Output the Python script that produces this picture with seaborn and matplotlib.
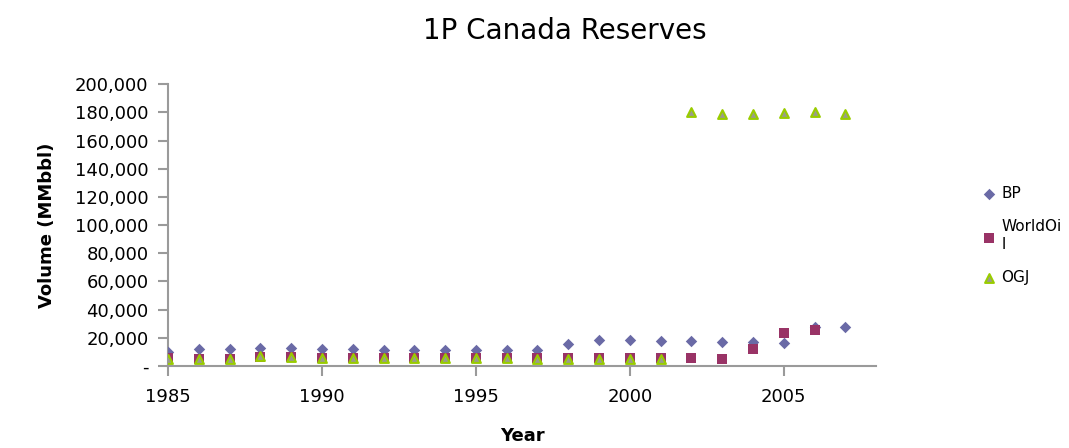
import numpy as np
import pandas as pd
import matplotlib
matplotlib.use("Agg")
import matplotlib.pyplot as plt
import matplotlib.ticker as mticker
import seaborn as sns

# values (MMbbl)
years = list(range(1985, 2008))
bp = [10000, 12400, 12400, 12900, 12900, 12000, 12000, 11300, 11300, 11300, 11500,
      11500, 11300, 15300, 18300, 18300, 17600, 17600, 17100, 17100, 16500, 28000, 27700]
worldoil = [5400, 5200, 5200, 6600, 6600, 5800, 5800, 5600, 5600, 5600, 5600,
            5600, 5400, 5600, 5900, 5400, 5400, 5900, 5100, 12000, 23500, 25800, None]
ogj = [5200, 5200, 5200, 6900, 6500, 5600, 5600, 5400, 5400, 5400, 5400,
       5400, 5200, 5200, 5200, 5200, 5200, 180000, 179000, 179000, 179500, 180000, 178800]

series = {"BP": bp, "WorldOi\nl": worldoil, "OGJ": ogj}
colors = {"BP": "#6a6aa6", "WorldOi\nl": "#993366", "OGJ": "#9a9c8c"}
markers = {"BP": "D", "WorldOi\nl": "s", "OGJ": "^"}
sizes = {"BP": 34, "WorldOi\nl": 50, "OGJ": 40}

df = pd.DataFrame(
    [(y, name, v) for name, vals in series.items() for y, v in zip(years, vals) if v is not None],
    columns=["Year", "Source", "Volume"],
)

sns.set_style("white")
plt.rcParams["font.family"] = ["DejaVu Sans"]
plt.rcParams["text.color"] = "black"
plt.rcParams["axes.labelcolor"] = "black"
plt.rcParams["xtick.color"] = "black"
plt.rcParams["ytick.color"] = "black"

fig = plt.figure(figsize=(10.69, 4.48), dpi=100)
ax = fig.add_axes([0.1572, 0.183, 0.6624, 0.629])

for name in series:
    sub = df[df["Source"] == name]
    edge = "#99cc00" if name == "OGJ" else colors[name]
    sns.scatterplot(data=sub, x="Year", y="Volume", ax=ax, marker=markers[name],
                    color=colors[name], edgecolor=edge, linewidth=1.5 if name == "OGJ" else 0,
                    s=sizes[name], label=name, zorder=3)

ax.set_xlim(1985, 2008)
ax.set_ylim(0, 200000)
ax.set_xticks([1985, 1990, 1995, 2000, 2005])
ax.set_yticks(range(0, 200001, 20000))
ax.yaxis.set_major_formatter(mticker.FuncFormatter(lambda v, p: "-" if v == 0 else f"{int(v):,}"))

for s in ["top", "right"]:
    ax.spines[s].set_visible(False)
for s in ["left", "bottom"]:
    ax.spines[s].set_color("#9a9a9a")
    ax.spines[s].set_linewidth(1.5)

ax.tick_params(axis="y", direction="out", length=7, width=1.5, color="#9a9a9a",
               labelsize=13, pad=7, left=True)
ax.tick_params(axis="x", direction="out", length=7, width=1.5, color="#9a9a9a",
               labelsize=13, pad=9, bottom=True)

ax.set_xlabel("Year", fontsize=13, fontweight="bold", labelpad=15)
ax.set_ylabel("Volume (MMbbl)", fontsize=13, fontweight="bold", labelpad=14)

fig.text(0.528, 0.93, "1P Canada Reserves", fontsize=20, ha="center", va="center")

leg = ax.legend(loc="upper left", bbox_to_anchor=(1.14, 0.66), frameon=False,
                fontsize=11, labelspacing=1.2, handletextpad=0.3, handlelength=1.0,
                borderaxespad=0)

fig.savefig("out.png", dpi=100)
